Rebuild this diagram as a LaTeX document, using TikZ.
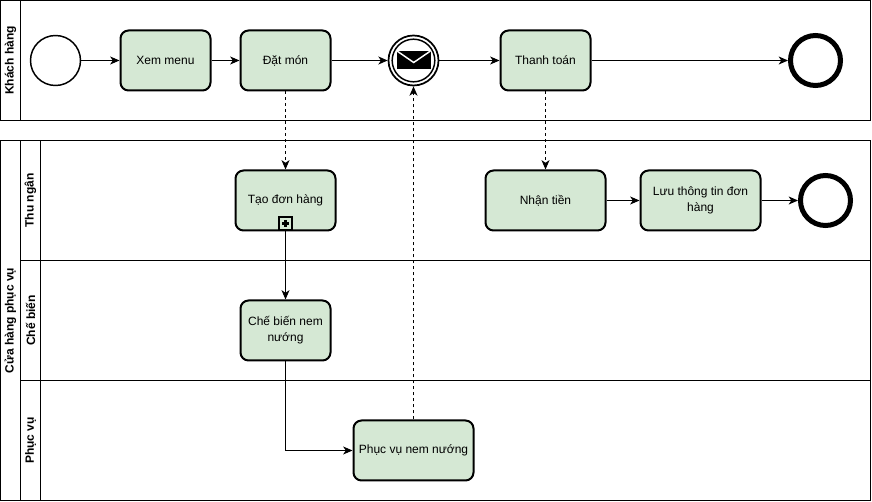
\documentclass[tikz,border=0pt]{standalone}
\usepackage{fontspec}
\setmainfont{Liberation Sans}
\usetikzlibrary{arrows.meta}
\definecolor{taskgreen}{HTML}{D5E8D4}

\begin{document}
\begin{tikzpicture}[x=0.75pt,y=-0.75pt,font=\fontsize{9pt}{12pt}\selectfont,
    lane/.style={draw=black,line width=0.75pt},
    lanetitle/.style={rotate=90,font=\fontsize{9pt}{12pt}\selectfont\bfseries},
    task/.style={draw=black,line width=1.5pt,fill=taskgreen,rounded corners=6pt,minimum height=45pt,align=center,inner sep=1pt},
    startevent/.style={draw=black,line width=1.1pt,fill=white,circle,minimum size=37.5pt,inner sep=0pt},
    endevent/.style={draw=black,line width=3.75pt,fill=white,circle,minimum size=37.5pt,inner sep=0pt},
    flow/.style={line width=0.75pt,-{Stealth[length=7pt,width=6pt,inset=2pt]}},
    msgflow/.style={flow,dash pattern=on 2.25pt off 2.25pt}]
  \useasboundingbox (0,0) rectangle (872,502);
  \fill[white] (0,0) rectangle (872,502); % nền trắng
  \draw[lane] (0.5,0.5) rectangle (870.5,120.5); % bể Khách hàng
  \draw[lane] (20.5,0.5) -- (20.5,120.5);
  \draw[lane] (0.5,140.5) rectangle (870.5,500.5); % bể Cửa hàng phục vụ
  \draw[lane] (20.5,140.5) -- (20.5,500.5);
  \draw[lane] (40.5,140.5) -- (40.5,500.5);
  \draw[lane] (20.5,260.5) -- (870.5,260.5); % đường chia làn 1
  \draw[lane] (20.5,380.5) -- (870.5,380.5); % đường chia làn 2

  \node[lanetitle] (khachhang) at (10.5,60.5) {Khách hàng};
  \node[lanetitle] (cuahang) at (10.5,320.5) {Cửa hàng phục vụ};
  \node[lanetitle] (thungan) at (30.5,200.5) {Thu ngân};
  \node[lanetitle] (chebienlane) at (30.5,320.5) {Chế biến};
  \node[lanetitle] (phucvulane) at (30.5,440.5) {Phục vụ};

  \node[startevent] (start) at (55.5,60.5) {};
  \node[task,minimum width=67.5pt] (xemmenu) at (165.5,60.5) {Xem menu};
  \node[task,minimum width=67.5pt] (datmon) at (285.5,60.5) {Đặt món};
  \node[startevent,line width=1.3pt] (msg) at (413.5,60.5) {};
  \node[draw=black,line width=1.1pt,circle,minimum size=32pt,inner sep=0pt] (msginner) at (413.5,60.5) {};
  \fill[black] (397,51) rectangle (430.5,69.5); % thân phong bì
  \draw[white,line width=1.1pt] (397,51) -- (413.7,62.5) -- (430.5,51); % nắp phong bì
  \node[task,minimum width=67.5pt] (thanhtoan) at (545.5,60.5) {Thanh toán};
  \node[endevent] (endkhach) at (815.5,60.5) {};

  \node[task,minimum width=75pt] (taodon) at (285.5,200.5) {Tạo đơn hàng};
  \node[task,minimum width=90pt] (nhantien) at (545.5,200.5) {Nhận tiền};
  \node[task,minimum width=90pt] (luuthongtin) at (700.5,200.5) {Lưu thông tin đơn\\hàng};
  \node[endevent] (endthu) at (825.5,200.5) {};
  \node[task,minimum width=67.5pt] (chebien) at (285.5,330.5) {Chế biến nem\\nướng};
  \node[task,minimum width=90pt] (phucvu) at (413.5,450.5) {Phục vụ nem nướng};

  \draw[flow] (start) -- (xemmenu);
  \draw[flow] (xemmenu) -- (datmon);
  \draw[flow] (datmon) -- (msg);
  \draw[flow] (msg) -- (thanhtoan);
  \draw[flow] (thanhtoan) -- (endkhach);
  \draw[flow] (nhantien) -- (luuthongtin);
  \draw[flow] (luuthongtin) -- (endthu);
  \draw[flow] (taodon.south) -- (chebien.north);
  \draw[flow] (chebien.south) |- (phucvu.west);
  \draw[msgflow] (datmon.south) -- (taodon.north);
  \draw[msgflow] (thanhtoan.south) -- (nhantien.north);
  \draw[msgflow] (phucvu.north) -- (msg.south);

  \node[draw=black,line width=1.3pt,fill=taskgreen,minimum size=9.5pt,inner sep=0pt] (submark) at (285.5,223.5) {};
  \draw[line width=1.6pt] (282,223.5) -- (289,223.5); % dấu cộng ngang
  \draw[line width=1.6pt] (285.5,220) -- (285.5,227); % dấu cộng dọc
\end{tikzpicture}
\end{document}
